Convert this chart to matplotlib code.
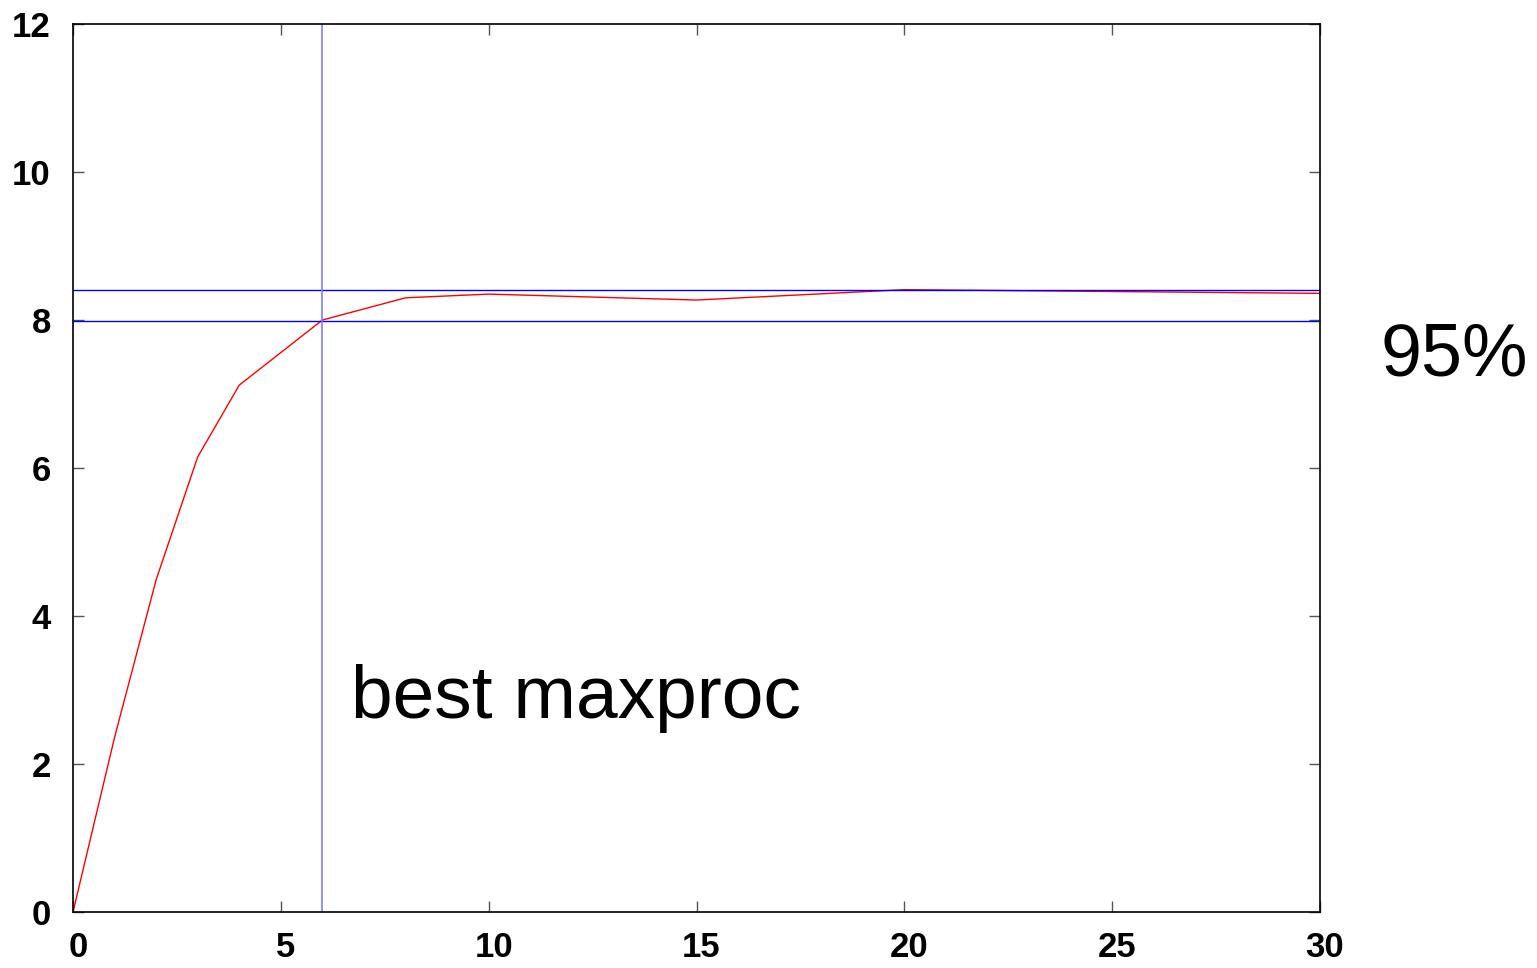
import matplotlib
matplotlib.use("Agg")
import matplotlib.pyplot as plt
from matplotlib.transforms import ScaledTranslation

# speedup vs maxproc
maxproc = [0, 1, 2, 3, 4, 6, 8, 10, 15, 20, 30]
speedup = [0, 2.36, 4.49, 6.15, 7.12, 8.0, 8.3, 8.35, 8.27, 8.41, 8.36]
peak = 8.41
best_maxproc = 6
x_ticks = [0, 5, 10, 15, 20, 25, 30]
y_ticks = [0, 2, 4, 6, 8, 10, 12]

plt.rcParams["font.family"] = ["Liberation Sans", "DejaVu Sans"]

fig = plt.figure(figsize=(15.37, 9.68), dpi=100, facecolor="white")
ax = fig.add_axes([73 / 1537, 1 - 912 / 968, (1320 - 73) / 1537, (912 - 24) / 968])

ax.plot(maxproc, speedup, color="red", linewidth=1.0)
ax.axhline(peak, color="blue", linewidth=1.0)
ax.axhline(0.95 * peak, color="blue", linewidth=1.0)
ax.axvline(best_maxproc, color="#7f7fff", linewidth=1.2)

ax.set_xlim(0, 30)
ax.set_ylim(0, 12)
ax.set_xticks(x_ticks)
ax.set_yticks(y_ticks)
ax.tick_params(direction="in", length=8, width=1, color="#555555",
               top=True, right=True, labelsize=25)
ax.tick_params(axis="x", pad=14)
ax.tick_params(axis="y", pad=16)
shift = ScaledTranslation(5 / 100, 0, fig.dpi_scale_trans)
for lab in ax.get_xticklabels():
    lab.set_fontweight("bold")
    lab.set_transform(lab.get_transform() + shift)
for lab in ax.get_yticklabels():
    lab.set_fontweight("bold")
for s in ax.spines.values():
    s.set_linewidth(1.2)

ax.text(6.7, 2.62, "best maxproc", fontsize=54)
fig.text(1381 / 1537, 1 - 356 / 968, "95%", fontsize=53, va="center", ha="left")

fig.savefig("out.png", dpi=100, facecolor="white")
